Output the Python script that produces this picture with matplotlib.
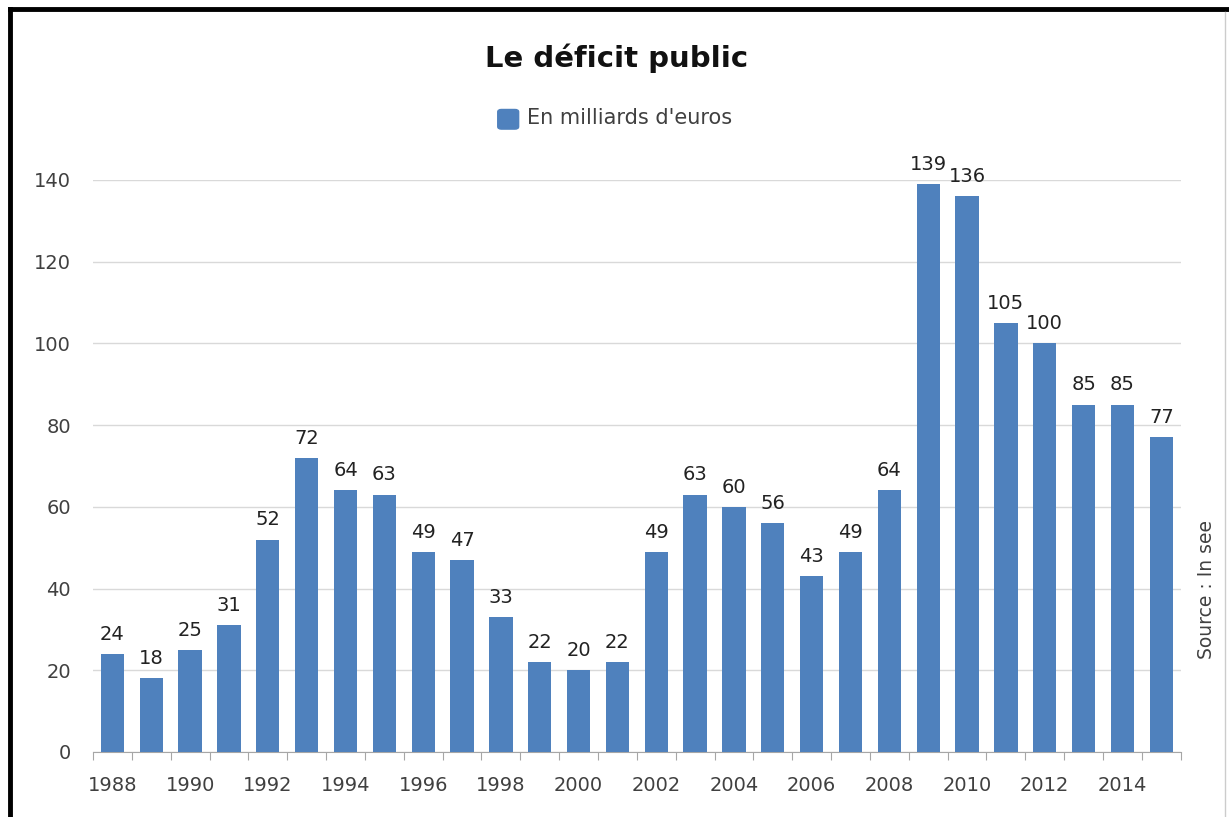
import matplotlib
matplotlib.use('Agg')
import matplotlib.pyplot as plt
from matplotlib.lines import Line2D
from matplotlib.patches import FancyBboxPatch
import numpy as np

plt.rcParams['font.family'] = ['DejaVu Sans']

annees = list(range(1988, 2016))
deficit = [24, 18, 25, 31, 52, 72, 64, 63, 49, 47, 33, 22, 20, 22,
           49, 63, 60, 56, 43, 49, 64, 139, 136, 105, 100, 85, 85, 77]
yticks = [0, 20, 40, 60, 80, 100, 120, 140]

bleu = '#4F81BD'
gris_txt = '#404040'

fig = plt.figure(figsize=(12.29, 8.17), dpi=100)
ax = fig.add_axes([0.0757, 0.0796, 0.885, 0.7001])

x = np.arange(len(annees))
ax.bar(x, deficit, width=0.6, color=bleu, zorder=3, label="En milliards d'euros")

for xi, v in zip(x, deficit):
    ax.text(xi, v + 2.5, str(v), ha='center', va='bottom', fontsize=14,
            color='#222222', clip_on=False)

ax.set_xlim(-0.5, len(annees) - 0.5)
ax.set_ylim(0, 140)
ax.set_yticks(yticks)
ax.set_yticklabels([str(t) for t in yticks], fontsize=14, color=gris_txt)
ax.grid(axis='y', color='#d9d9d9', linewidth=1, zorder=0)

# ticks between categories, labels every 2 years
ax.set_xticks(np.arange(-0.5, len(annees), 1), minor=False)
ax.set_xticklabels([])
ax.set_xticks(x[::2], minor=True)
ax.set_xticklabels([str(a) for a in annees[::2]], minor=True, fontsize=14, color=gris_txt)
ax.tick_params(axis='x', which='major', length=6, color='#a6a6a6', direction='out')
ax.tick_params(axis='x', which='minor', length=0, pad=17)
ax.tick_params(axis='y', length=0, pad=16)

for s in ['top', 'right', 'left']:
    ax.spines[s].set_visible(False)
ax.spines['bottom'].set_color('#a6a6a6')

fig.text(0.502, 0.929, 'Le déficit public', ha='center', va='center',
         fontsize=21, fontweight='bold', color='#111111')

# légende
fig.add_artist(FancyBboxPatch((0.405, 0.842), 0.017, 0.024,
                              boxstyle='round,pad=0,rounding_size=0.003',
                              transform=fig.transFigure, color=bleu))
fig.text(0.4285, 0.855, "En milliards d'euros", ha='left', va='center',
         fontsize=15, color=gris_txt)

fig.text(0.982, 0.278, 'Source : In see', rotation=90, ha='center', va='center',
         fontsize=13.5, color=gris_txt)

# cadre
fig.add_artist(Line2D([0.0081, 0.0081], [0, 0.989], transform=fig.transFigure,
                      color='black', linewidth=3.5))
fig.add_artist(Line2D([0.0081, 1.0], [0.989, 0.989], transform=fig.transFigure,
                      color='black', linewidth=3.5))
fig.add_artist(Line2D([0.9965, 0.9965], [0, 0.985], transform=fig.transFigure,
                      color='#cccccc', linewidth=1))

fig.savefig('out.png', dpi=100)
